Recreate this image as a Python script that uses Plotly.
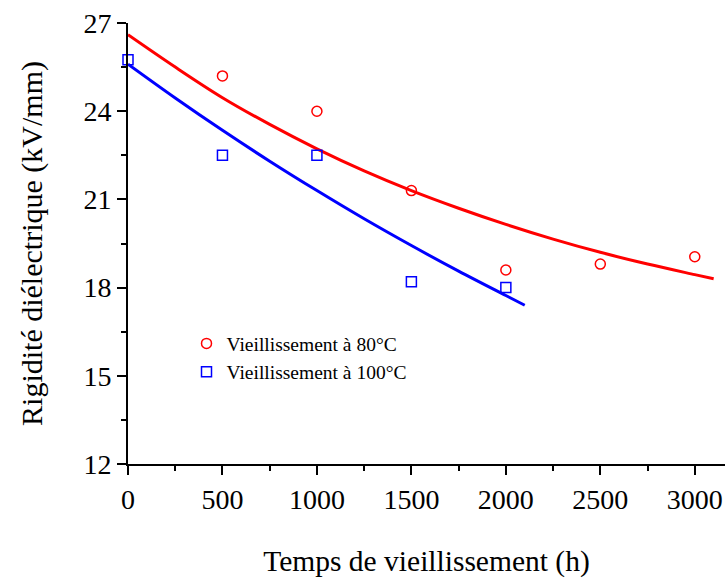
import plotly.graph_objects as go

# Measured points
t80 = [500, 1000, 1500, 2000, 2500, 3000]
v80 = [25.2, 24.0, 21.3, 18.6, 18.8, 19.05]
t100 = [0, 500, 1000, 1500, 2000]
v100 = [25.75, 22.5, 22.5, 18.2, 18.0]

# Fitted curves
fit80_t = [0, 250, 500, 750, 1000, 1250, 1500, 1750, 2000, 2250, 2500, 2750, 3000, 3100]
fit80_v = [26.6, 25.5, 24.46, 23.55, 22.72, 21.97, 21.3, 20.7, 20.15, 19.65, 19.2, 18.8, 18.44, 18.3]
fit100_t = [0, 250, 500, 750, 1000, 1250, 1500, 1750, 2000, 2100]
fit100_v = [25.6, 24.45, 23.35, 22.3, 21.3, 20.34, 19.43, 18.56, 17.73, 17.4]

xticks = [0, 500, 1000, 1500, 2000, 2500, 3000]
yticks = [12, 15, 18, 21, 24, 27]

FONT = "Liberation Serif"

fig = go.Figure()
fig.add_trace(go.Scatter(x=fit80_t, y=fit80_v, mode="lines", line=dict(color="#ff0000", width=3, shape="spline"),
                         showlegend=False, hoverinfo="skip"))
fig.add_trace(go.Scatter(x=fit100_t, y=fit100_v, mode="lines", line=dict(color="#0000ff", width=3, shape="spline"),
                         showlegend=False, hoverinfo="skip"))
fig.add_trace(go.Scatter(x=t80, y=v80, mode="markers", name="Vieillissement à 80°C",
                         marker=dict(symbol="circle-open", size=10, color="#ff0000", line=dict(width=1.5, color="#ff0000")),
                         cliponaxis=False))
fig.add_trace(go.Scatter(x=t100, y=v100, mode="markers", name="Vieillissement à 100°C",
                         marker=dict(symbol="square-open", size=10, color="#0000ff", line=dict(width=1.5, color="#0000ff")),
                         cliponaxis=False))

fig.update_layout(
    width=725, height=583,
    margin=dict(l=128, r=0, t=23, b=119),
    paper_bgcolor="white", plot_bgcolor="white",
    font=dict(family=FONT, color="black"),
    legend=dict(x=0.098, y=0.317, xanchor="left", yanchor="top",
                font=dict(family=FONT, size=19.5, color="black"),
                bgcolor="rgba(0,0,0,0)", tracegroupgap=0, itemwidth=30),
    xaxis=dict(range=[0, 3160], tickvals=xticks, ticktext=[str(v) for v in xticks],
               showgrid=False, zeroline=False, showline=True, linecolor="black", linewidth=2,
               ticks="outside", ticklen=9, tickwidth=2, tickcolor="black",
               tickfont=dict(family=FONT, size=28, color="black"),
               minor=dict(dtick=250, tick0=0, ticks="outside", ticklen=5, tickwidth=2, tickcolor="black", showgrid=False),
               title=dict(text="Temps de vieillissement (h)", font=dict(family=FONT, size=29.5, color="black"), standoff=37)),
    yaxis=dict(range=[12, 27], tickvals=yticks, ticktext=[str(v) for v in yticks],
               showgrid=False, zeroline=False, showline=True, linecolor="black", linewidth=2,
               ticks="outside", ticklen=9, tickwidth=2, tickcolor="black",
               tickfont=dict(family=FONT, size=28, color="black"),
               minor=dict(dtick=1.5, tick0=12, ticks="outside", ticklen=5, tickwidth=2, tickcolor="black", showgrid=False),
               title=dict(text="Rigidité diélectrique (kV/mm)", font=dict(family=FONT, size=30, color="black"), standoff=32)),
)

fig.write_html("out.html")
